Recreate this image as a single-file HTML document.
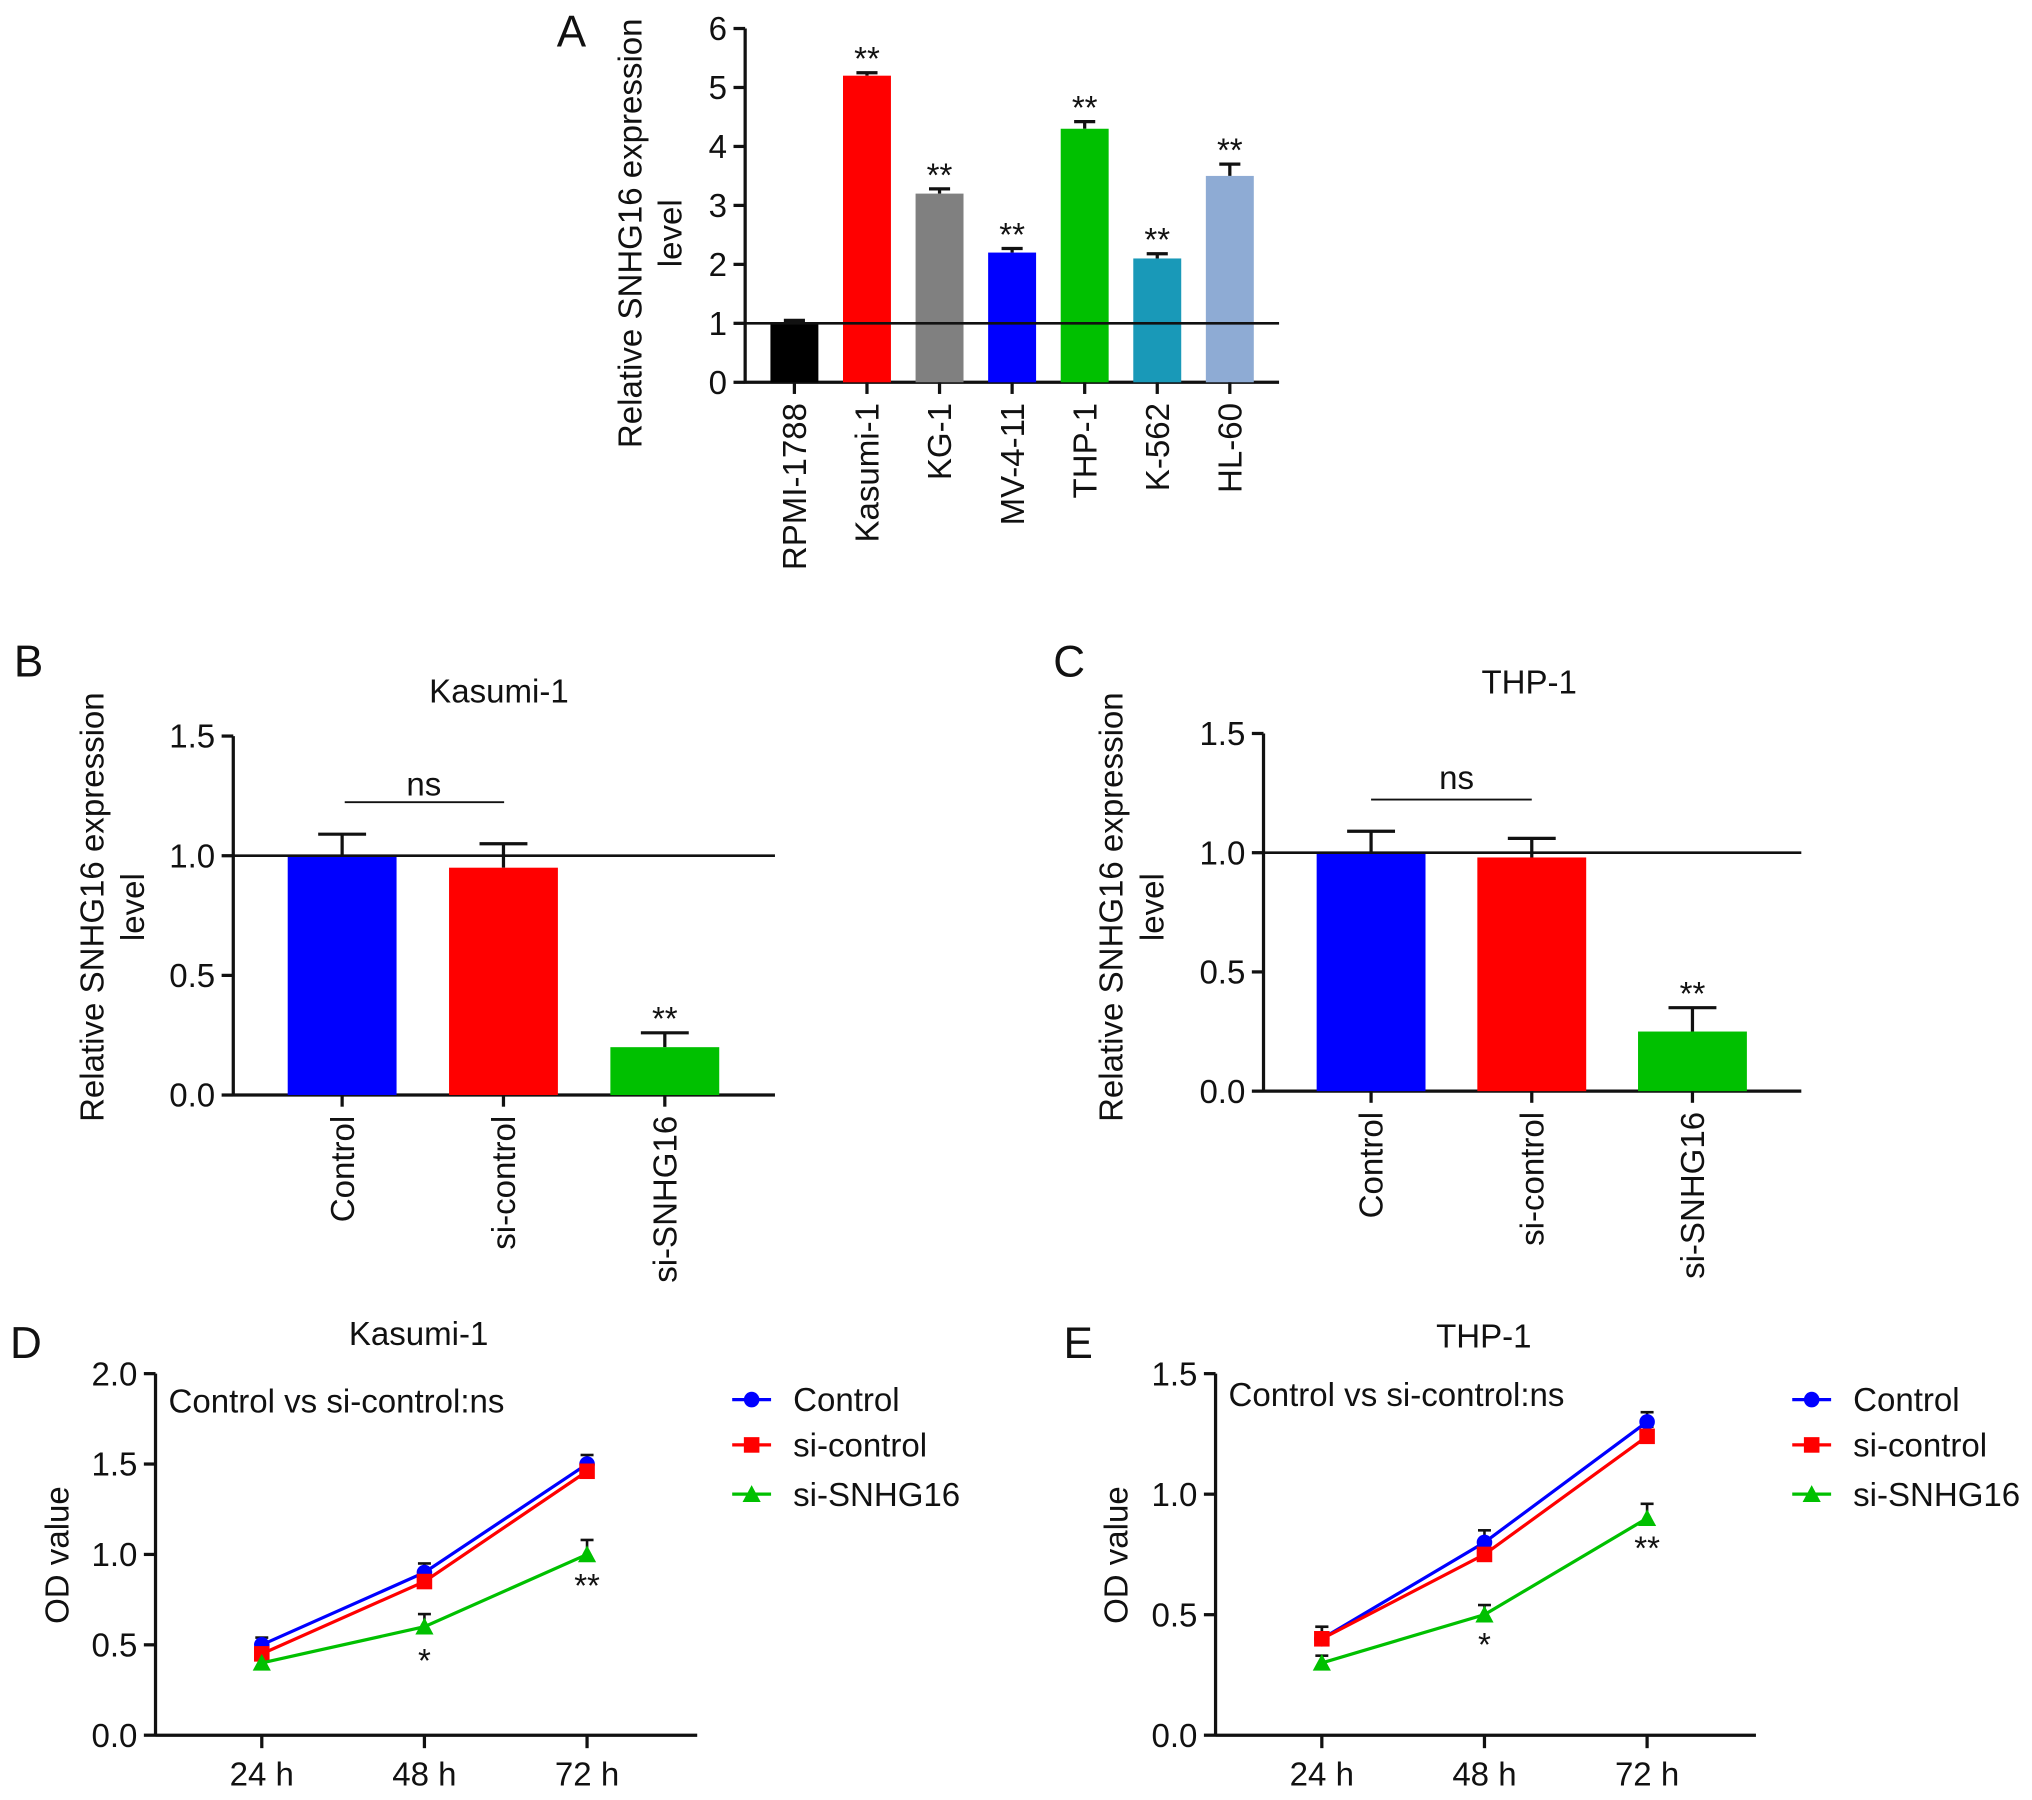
<!DOCTYPE html>
<html><head><meta charset="utf-8"><style>
html,body{margin:0;padding:0;background:#fff}
svg{display:block}
text{font-family:"Liberation Sans Narrow","Liberation Sans",sans-serif;fill:#111}
</style></head><body>
<svg id="fig" width="2032" height="1800" viewBox="0 0 1568 1389" xmlns="http://www.w3.org/2000/svg"></svg>
<script>
// Panel A data
const catsA=["RPMI-1788","Kasumi-1","KG-1","MV-4-11","THP-1","K-562","HL-60"];
const valsA=[1.0,5.2,3.2,2.2,4.3,2.1,3.5];
const errA=[0.05,0.05,0.08,0.07,0.12,0.08,0.2];
const starsA=["","**","**","**","**","**","**"];
const ticksA=[0,1,2,3,4,5,6];
// Panel B
const catsB=["Control","si-control","si-SNHG16"];
const valsB=[1.0,0.95,0.2];
const errB=[0.09,0.1,0.06];
// Panel C
const valsC=[1.0,0.98,0.25];
const errC=[0.09,0.08,0.1];
const ticksBC=[0,0.5,1.0,1.5];
// Panel D
const timeCats=["24 h","48 h","72 h"];
const dControl=[0.5,0.9,1.5];
const dSiControl=[0.45,0.85,1.46];
const dSi=[0.4,0.6,1.0];
const dErrC=[0.04,0.05,0.05];
const dErrSi=[0.02,0.07,0.08];
const ticksD=[0,0.5,1.0,1.5,2.0];
// Panel E
const eControl=[0.4,0.8,1.3];
const eSiControl=[0.4,0.75,1.24];
const eSi=[0.3,0.5,0.9];
const eErrC=[0.05,0.05,0.04];
const eErrSi=[0.03,0.04,0.06];
const ticksE=[0,0.5,1.0,1.5];

const svg=document.getElementById('fig');
const NS="http://www.w3.org/2000/svg";
const FS=25.5;
function el(tag,attrs,name,parent){
  const e=document.createElementNS(NS,tag);
  for(const k in attrs)e.setAttribute(k,attrs[k]);
  
  
  (parent||svg).appendChild(e);return e;
}
function txt(x,y,s,name,opt){
  opt=opt||{};
  const t=el('text',{x:x,y:y,'font-size':opt.size||FS,'text-anchor':opt.anchor||'middle'},name);
  if(opt.rot)t.setAttribute('transform','rotate(-90 '+x+' '+y+')');
  t.textContent=s;return t;
}
function line(x1,y1,x2,y2,name,col,w){
  return el('line',{x1:x1,y1:y1,x2:x2,y2:y2,stroke:col||'#111','stroke-width':w||2.5},name);
}
function yAxis(x0,yb,yt,ticks,max,x1,name,fmt){
  const sc=v=>yb-(yb-yt)*v/max;
  line(x0,yt,x0,yb+1,name+'-y-axis');
  line(x0,yb,x1,yb,name+'-x-axis');
  ticks.forEach(t=>{
    line(x0-9,sc(t),x0,sc(t),name+'-y-tick');
    txt(x0-14,sc(t)+9,fmt(t),name+'-y-tick-label',{anchor:'end'});
  });
  return sc;
}
function barPanel(cfg){
  const sc=yAxis(cfg.x0,cfg.yb,cfg.yt,cfg.ticks,cfg.max,cfg.x1,cfg.name,cfg.fmt);
  cfg.vals.forEach((v,i)=>{
    const cx=cfg.cx0+i*cfg.step, w=cfg.bw;
    const top=sc(v+cfg.err[i]);
    line(cx,sc(v),cx,top,cfg.name+'-error-bar');
    line(cx-w*0.22,top,cx+w*0.22,top,cfg.name+'-error-cap');
    el('rect',{x:cx-w/2,y:sc(v),width:w,height:cfg.yb-sc(v),fill:cfg.colors[i]},cfg.name+'-bar-'+cfg.cats[i]);
    line(cx,cfg.yb,cx,cfg.yb+9,cfg.name+'-x-tick');
    txt(cx+9,cfg.yb+16,cfg.cats[i],cfg.name+'-x-label',{anchor:'end',rot:true});
    if(cfg.stars[i])txt(cx,top-2,cfg.stars[i],cfg.name+'-significance',{size:FS});
  });
  line(cfg.x0,sc(1),cfg.x1,sc(1),cfg.name+'-reference-line','#111',2);
  return sc;
}
// Panel A
txt(441,36,"A","panel-a-label",{size:34});
barPanel({name:'panel-a',x0:575,yb:295,yt:22,x1:987,max:6,ticks:ticksA,fmt:t=>String(t),
  vals:valsA,err:errA,cats:catsA,stars:starsA,cx0:613,step:56,bw:37,
  colors:['#000','#ff0000','#808080','#0000ff','#00c000','#1999b8','#8eabd4']});
txt(495,180,"Relative SNHG16 expression","panel-a-y-title",{rot:true});
txt(526,180,"level","panel-a-y-title-2",{rot:true});
// Panel B
txt(22,522,"B","panel-b-label",{size:34});
txt(385,542,"Kasumi-1","panel-b-title");
barPanel({name:'panel-b',x0:180,yb:845,yt:568,x1:598,max:1.5,ticks:ticksBC,fmt:t=>t.toFixed(1),
  vals:valsB,err:errB,cats:catsB,stars:["","","**"],cx0:264,step:124.5,bw:84,
  colors:['#0000ff','#ff0000','#00c000']});
line(266,619,389,619,'panel-b-ns-bracket','#111',1.5);
txt(327,614,"ns","panel-b-ns");
txt(80,700,"Relative SNHG16 expression","panel-b-y-title",{rot:true});
txt(111,700,"level","panel-b-y-title-2",{rot:true});
// Panel C
txt(825,522,"C","panel-c-label",{size:34});
txt(1180,535,"THP-1","panel-c-title");
barPanel({name:'panel-c',x0:975,yb:842,yt:566,x1:1390,max:1.5,ticks:ticksBC,fmt:t=>t.toFixed(1),
  vals:valsC,err:errC,cats:catsB,stars:["","","**"],cx0:1058,step:124,bw:84,
  colors:['#0000ff','#ff0000','#00c000']});
line(1058,617,1182,617,'panel-c-ns-bracket','#111',1.5);
txt(1124,609,"ns","panel-c-ns");
txt(866,700,"Relative SNHG16 expression","panel-c-y-title",{rot:true});
txt(898,700,"level","panel-c-y-title-2",{rot:true});
// line panels
function marker(kind,x,y,col,name){
  if(kind==='c')el('circle',{cx:x,cy:y,r:6,fill:col},name);
  else if(kind==='s')el('rect',{x:x-6,y:y-6,width:12,height:12,fill:col},name);
  else el('polygon',{points:(x)+','+(y-7)+' '+(x-7)+','+(y+6)+' '+(x+7)+','+(y+6),fill:col},name);
}
function linePanel(cfg){
  const sc=yAxis(cfg.x0,1339,1060,cfg.ticks,cfg.max,cfg.x1,cfg.name,t=>t.toFixed(1));
  const xs=i=>cfg.cx0+i*cfg.step;
  timeCats.forEach((c,i)=>{line(xs(i),1339,xs(i),1349,cfg.name+'-x-tick');txt(xs(i),1378,c,cfg.name+'-x-label');});
  const series=[[cfg.c,cfg.ec,'#0000ff','c','control'],[cfg.s,cfg.ec,'#ff0000','s','si-control'],[cfg.g,cfg.eg,'#00c000','t','si-snhg16']];
  series.forEach(s=>{
    s[0].forEach((v,i)=>{
      const top=sc(v+s[1][i]);
      line(xs(i),sc(v),xs(i),top,cfg.name+'-error-'+s[4],'#111',2);
      line(xs(i)-5,top,xs(i)+5,top,cfg.name+'-error-cap-'+s[4],'#111',2);
    });
  });
  series.forEach(s=>{
    el('polyline',{points:s[0].map((v,i)=>xs(i)+','+sc(v)).join(' '),fill:'none',stroke:s[2],'stroke-width':2.5},cfg.name+'-line-'+s[4]);
    s[0].forEach((v,i)=>marker(s[3],xs(i),sc(v),s[2],cfg.name+'-point-'+s[4]));
  });
  txt(xs(1),sc(cfg.g[1])+cfg.star1,"*",cfg.name+'-significance-48h');
  txt(xs(2),sc(cfg.g[2])+cfg.star2,"**",cfg.name+'-significance-72h');
  txt(cfg.x0+10,cfg.noteY,"Control vs si-control:ns",cfg.name+'-note',{anchor:'start'});
  const labels=["Control","si-control","si-SNHG16"],ly=[1080,1115,1153];
  series.forEach((s,i)=>{
    line(cfg.lx,ly[i],cfg.lx+30,ly[i],cfg.name+'-legend-line-'+s[4],s[2],2.5);
    marker(s[3],cfg.lx+15,ly[i],s[2],cfg.name+'-legend-marker-'+s[4]);
    txt(cfg.lx+47,ly[i]+9,labels[i],cfg.name+'-legend-label-'+s[4],{anchor:'start'});
  });
}
txt(20,1048,"D","panel-d-label",{size:34});
txt(323,1038,"Kasumi-1","panel-d-title");
linePanel({name:'panel-d',x0:120,x1:538,max:2.0,ticks:ticksD,cx0:202,step:125.5,c:dControl,s:dSiControl,g:dSi,ec:dErrC,eg:dErrSi,star1:35,star2:33,noteY:1090,lx:565});
txt(53,1200,"OD value","panel-d-y-title",{rot:true});
txt(832,1048,"E","panel-e-label",{size:34});
txt(1145,1040,"THP-1","panel-e-title");
linePanel({name:'panel-e',x0:938,x1:1355,max:1.5,ticks:ticksE,cx0:1020,step:125.5,c:eControl,s:eSiControl,g:eSi,ec:eErrC,eg:eErrSi,star1:32,star2:32,noteY:1085,lx:1383});
txt(870,1200,"OD value","panel-e-y-title",{rot:true});
</script>
</body></html>
